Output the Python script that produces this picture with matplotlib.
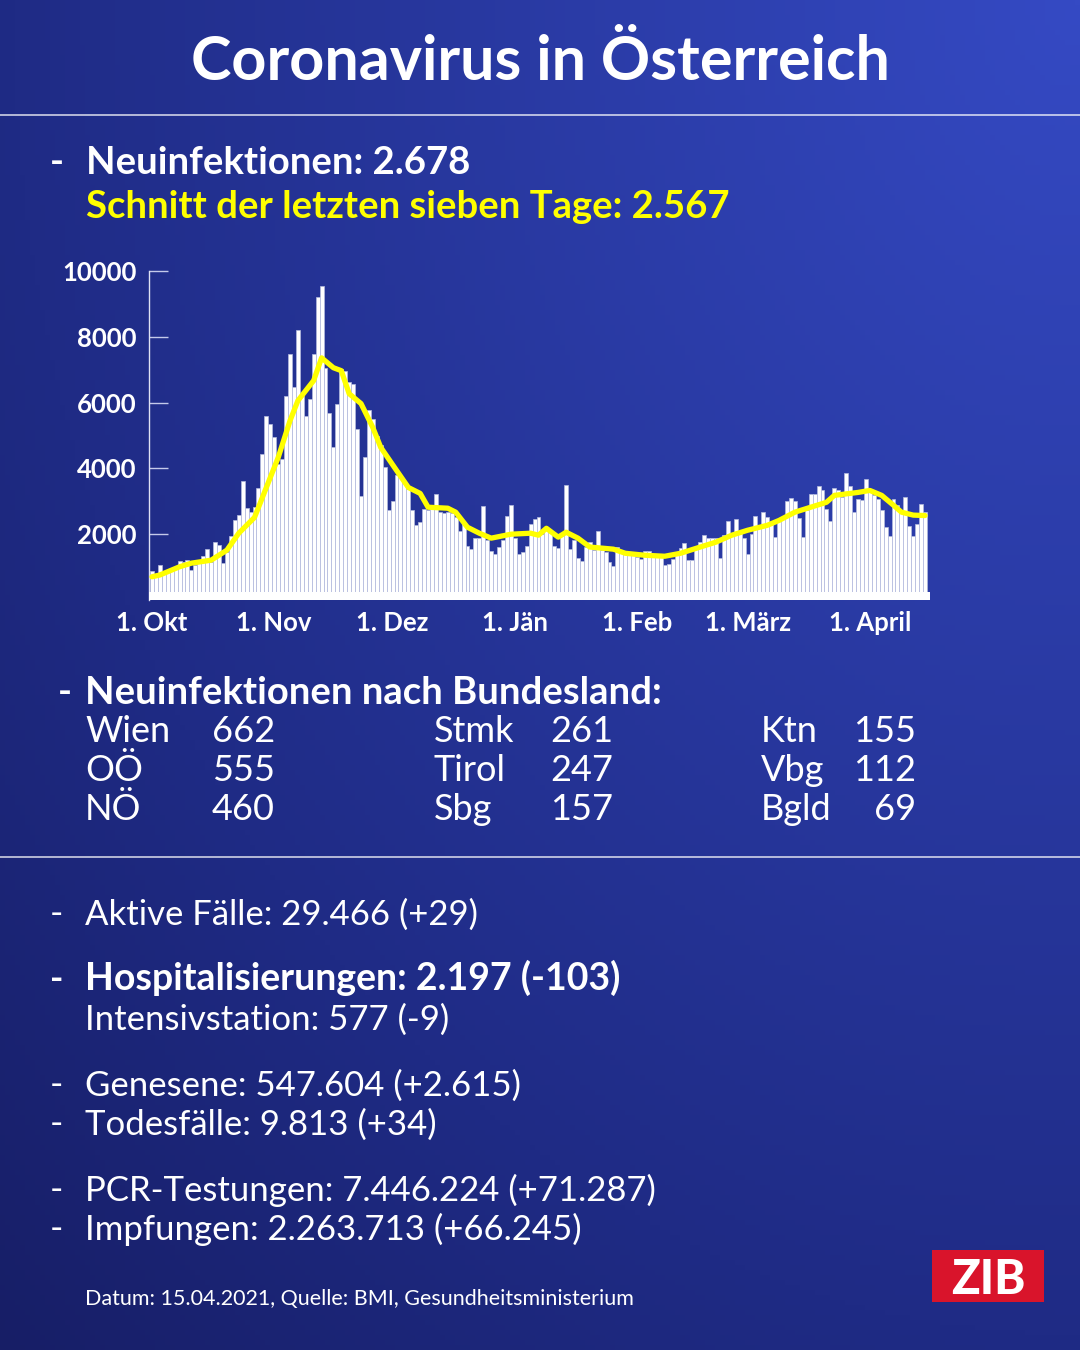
import matplotlib
matplotlib.use("Agg")
import matplotlib.pyplot as plt
from matplotlib.patches import Rectangle
import numpy as np
import pandas as pd

# daily new infections, 1 Oct 2020 .. 15 Apr 2021
start = pd.Timestamp("2020-10-01")
cases = [
    880, 760, 1060, 860, 870, 960, 1010, 1200, 1140, 1210,
    910, 1060, 1130, 1340, 1545, 1160, 1750, 1670, 1130, 1460,
    1960, 2420, 2570, 3610, 2790, 2680, 2830, 3390, 4440, 5600,
    5340, 4950, 4140, 4300, 6200, 7470, 6460, 8210, 6200, 5600,
    6110, 7490, 9220, 9540, 7040, 5690, 4650, 5960, 7020, 6970,
    6620, 6570, 5200, 3160, 4340, 5780, 5500, 5000, 4700, 4040,
    2750, 3010, 3790, 3800, 3590, 3380, 2730, 2270, 2370, 2780,
    2730, 2830, 3230, 2680, 2650, 2680, 2630, 2530, 2100, 2300,
    1640, 1540, 1870, 1870, 2850, 1820, 1500, 1410, 1600, 1820,
    2550, 2900, 1870, 1390, 1460, 1640, 2320, 2470, 2520, 2020,
    2170, 2070, 1640, 1570, 2020, 3510, 1540, 1820, 1290, 1180,
    1620, 1770, 1515, 2090, 1515, 1460, 1160, 1030, 1620, 1515,
    1400, 1420, 1380, 1300, 1250, 1500, 1500, 1380, 1360, 1340,
    1060, 1080, 1260, 1460, 1570, 1740, 1210, 1230, 1620, 1770,
    1970, 1870, 1870, 1870, 1280, 1970, 2390, 2020, 2450, 2070,
    1870, 1410, 2020, 2545, 2270, 2660, 2525, 2370, 1920, 2420,
    2525, 3000, 3110, 3010, 2495, 1900, 2730, 3230, 3230, 3480,
    3330, 2780, 2400, 3400, 3350, 3130, 3870, 3480, 2680, 3080,
    3030, 3670, 3280, 3180, 3080, 2730, 2220, 1940, 3080, 2880,
    2730, 3130, 2250, 1940, 2300, 2930, 2678,
]

avg_days = [0, 2, 7, 10, 15, 19, 22, 26, 29, 32, 35, 37, 41, 43, 46, 48,
            50, 53, 56, 58, 62, 65, 68, 70, 75, 77, 80, 83, 86, 91, 96, 98,
            100, 103, 105, 108, 111, 117, 120, 125, 130, 134, 139, 143, 147,
            151, 156, 159, 163, 167, 171, 173, 177, 179, 182, 185, 188, 190,
            193, 196]
avg_vals = [706, 760, 1010, 1120, 1210, 1515, 2030, 2510, 3420, 4330, 5450,
            6060, 6670, 7360, 7060, 6970, 6270, 5970, 5240, 4640, 3940, 3420,
            3240, 2820, 2790, 2670, 2210, 2030, 1880, 2000, 2030, 1970, 2180,
            1910, 2060, 1880, 1610, 1545, 1420, 1360, 1330, 1420, 1610, 1760,
            1970, 2120, 2270, 2420, 2670, 2820, 2970, 3180, 3240, 3270, 3330,
            3180, 2880, 2670, 2580, 2567]

month_starts = ["2020-10-01", "2020-11-01", "2020-12-01", "2021-01-01",
                "2021-02-01", "2021-03-01", "2021-04-01"]
month_labels = ["1. Okt", "1. Nov", "1. Dez", "1. Jän", "1. Feb",
                "1. März", "1. April"]
y_ticks = [2000, 4000, 6000, 8000, 10000]

bundesland = [("Wien", "662"), ("OÖ", "555"), ("NÖ", "460"),
              ("Stmk", "261"), ("Tirol", "247"), ("Sbg", "157"),
              ("Ktn", "155"), ("Vbg", "112"), ("Bgld", "69")]

W, H = 1080, 1350
plt.rcParams["font.family"] = ["Lato", "DejaVu Sans"]

fig = plt.figure(figsize=(W / 100, H / 100), dpi=100)

# background gradient, brighter towards the top right corner
bg = fig.add_axes([0, 0, 1, 1])
xx, yy = np.meshgrid(np.linspace(0, 1, 216), np.linspace(0, 1, 270))
d = np.sqrt((1 - xx) ** 2 + yy ** 2) / np.sqrt(2)
c_hi = np.array([0x35, 0x4a, 0xc4]) / 255
c_mid = np.array([0x1f, 0x2b, 0x85]) / 255
c_lo = np.array([0x17, 0x1e, 0x66]) / 255
t1 = np.clip(d / 0.7, 0, 1)[..., None]
t2 = np.clip((d - 0.7) / 0.3, 0, 1)[..., None]
img = np.where(d[..., None] < 0.7, c_hi + (c_mid - c_hi) * t1,
               c_mid + (c_lo - c_mid) * t2)
bg.imshow(img, extent=[0, 1, 0, 1], aspect="auto", origin="upper")
bg.set_xlim(0, 1)
bg.set_ylim(0, 1)
bg.axis("off")


def put(px, py, s, **kw):
    kw.setdefault("color", "white")
    kw.setdefault("va", "baseline")
    fig.text(px / W, 1 - py / H, s, **kw)


def hline(py):
    bg.plot([0, 1], [1 - py / H, 1 - py / H], color="white", lw=1.1,
            alpha=0.85)


put(540, 80, "Coronavirus in Österreich", fontsize=44, fontweight="bold",
    ha="center")
hline(115)

put(50, 174, "-", fontsize=27, fontweight="bold")
put(86, 174, "Neuinfektionen: 2.678", fontsize=27.5, fontweight="bold")
put(86, 218, "Schnitt der letzten sieben Tage: 2.567", fontsize=27.5,
    fontweight="bold", color="#ffff00")

# chart
ax = fig.add_axes([149 / W, 1 - 600 / H, (930 - 149) / W, (600 - 271) / H])
ax.patch.set_alpha(0)
x = np.arange(len(cases))
ax.bar(x, cases, width=1.0, color="white", edgecolor="#b3bade",
       linewidth=0.5, zorder=2)
ax.axhspan(0, 240, color="white", zorder=3, lw=0)
ax.plot(avg_days, avg_vals, color="#ffff00", lw=3.8, zorder=4,
        solid_joinstyle="round", solid_capstyle="round")
ax.set_xlim(-0.75, len(cases) + 0.25)
ax.set_ylim(0, 10000)
for s in ["top", "right", "bottom"]:
    ax.spines[s].set_visible(False)
ax.spines["left"].set_color("#dfe2f4")
ax.spines["left"].set_linewidth(1.0)
ax.set_yticks(y_ticks)
ax.set_yticklabels([str(v) for v in y_ticks])
ax.tick_params(axis="y", direction="in", length=14, width=1.0,
               color="#c4c9ea", pad=9, labelsize=18.5, labelcolor="white")
for lab in ax.get_yticklabels():
    lab.set_fontweight("bold")
tick_pos = [(pd.Timestamp(m) - start).days for m in month_starts]
ax.set_xticks(tick_pos)
ax.set_xticklabels(month_labels)
ax.tick_params(axis="x", length=0, pad=8, labelsize=18.5, labelcolor="white")
for lab in ax.get_xticklabels():
    lab.set_fontweight("bold")

# Bundesland table
put(58, 704, "-", fontsize=27, fontweight="bold")
put(85, 704, "Neuinfektionen nach Bundesland:", fontsize=27.5,
    fontweight="bold")
name_x = [85, 434, 761]
val_x = [212, 550, 916]
for k, (name, val) in enumerate(bundesland):
    col, row = divmod(k, 3)
    py = 742 + row * 39
    put(name_x[col], py, name, fontsize=26)
    if col < 2:
        put(val_x[col], py, val, fontsize=26)
    else:
        put(val_x[col], py, val, fontsize=26, ha="right")

hline(857)

lines = [
    (925, "Aktive Fälle: 29.466 (+29)", "normal", True),
    (990, "Hospitalisierungen: 2.197 (-103)", "bold", True),
    (1030, "Intensivstation: 577 (-9)", "normal", False),
    (1096, "Genesene: 547.604 (+2.615)", "normal", True),
    (1135, "Todesfälle: 9.813 (+34)", "normal", True),
    (1201, "PCR-Testungen: 7.446.224 (+71.287)", "normal", True),
    (1240, "Impfungen: 2.263.713 (+66.245)", "normal", True),
]
for py, txt, wt, dash in lines:
    size = 27 if wt == "bold" else 25
    if dash:
        put(50, py, "-", fontsize=26, fontweight=wt)
    put(85, py, txt, fontsize=size, fontweight=wt)

put(85, 1305, "Datum: 15.04.2021, Quelle: BMI, Gesundheitsministerium",
    fontsize=15.5)

# ZIB logo
bg.add_patch(Rectangle((932 / W, 1 - 1302 / H), 112 / W, 52 / H,
                       color="#d9142b", lw=0))
put(988, 1276, "ZIB", fontsize=34, fontweight="black", ha="center",
    va="center_baseline")

fig.savefig("out.png", dpi=100)
